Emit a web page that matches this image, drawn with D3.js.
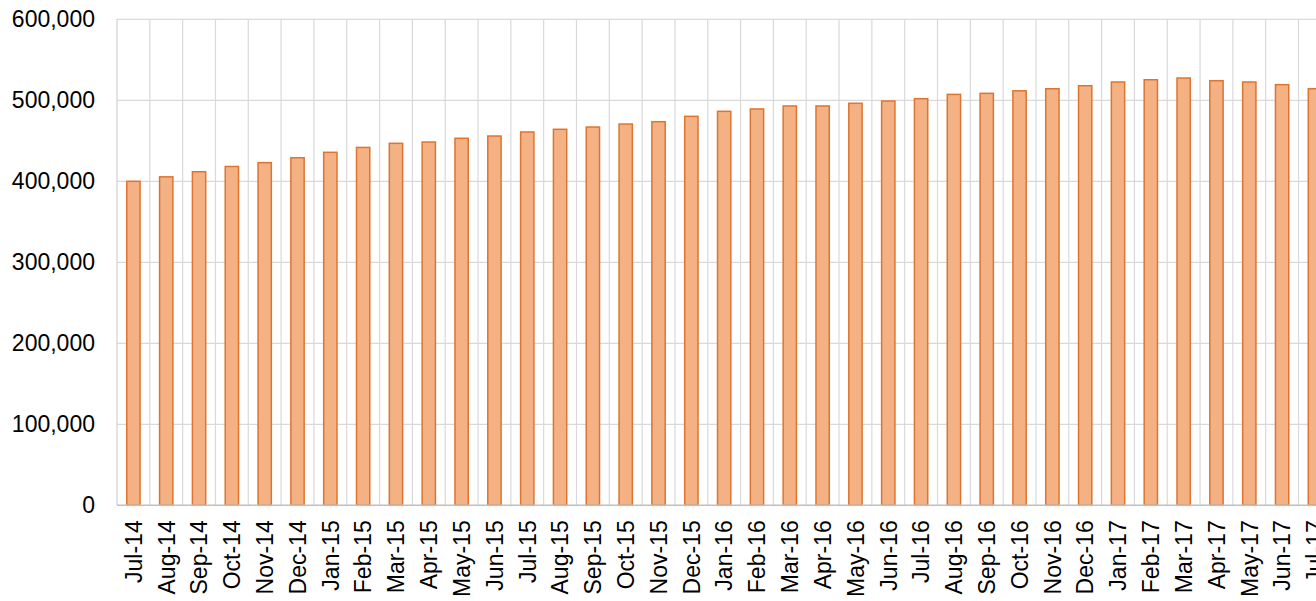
<!DOCTYPE html>
<html>
<head>
<meta charset="utf-8">
<script src="https://cdn.jsdelivr.net/npm/d3@7"></script>
<style>
  body { margin: 0; background: #fff; overflow: hidden; }
  svg { display: block; font-family: "Liberation Sans", Arial, sans-serif; }
  .tick text { font-size: 23px; fill: #000; }
</style>
</head>
<body>
<svg id="chart" width="1316" height="601"></svg>
<script>
// months shown on the x axis
let months = ["Jul-14", "Aug-14", "Sep-14", "Oct-14", "Nov-14", "Dec-14",
  "Jan-15", "Feb-15", "Mar-15", "Apr-15", "May-15", "Jun-15",
  "Jul-15", "Aug-15", "Sep-15", "Oct-15", "Nov-15", "Dec-15",
  "Jan-16", "Feb-16", "Mar-16", "Apr-16", "May-16", "Jun-16",
  "Jul-16", "Aug-16", "Sep-16", "Oct-16", "Nov-16", "Dec-16",
  "Jan-17", "Feb-17", "Mar-17", "Apr-17", "May-17", "Jun-17", "Jul-17"];

// values
let values = [400000, 405500, 411800, 418300, 423000, 429100,
  435800, 441800, 446900, 448500, 453100, 455900,
  460900, 464200, 467000, 470700, 473600, 480200,
  486400, 489300, 493000, 493000, 496300, 499100,
  502000, 507300, 508600, 511700, 514300, 518000,
  522600, 525400, 527500, 524200, 522600, 519300, 514300];

let yTicks = [0, 100000, 200000, 300000, 400000, 500000, 600000];

let drawBarChart = function() {
  let svg = d3.select("svg#chart");

  const margin = { top: 19.3, left: 117 };
  const plotHeight = 486;
  const step = 32.82;
  const plotWidth = step * months.length;

  let countScale = d3.scaleLinear()
    .domain([0, 600000])
    .range([plotHeight, 0]);

  let monthScale = d3.scaleBand()
    .domain(months)
    .range([0, plotWidth])
    .paddingInner(0.595)
    .paddingOuter(0.2975);

  // no padding: used for the vertical grid lines between months
  let cellScale = d3.scaleBand()
    .domain(months)
    .range([0, plotWidth]);

  const plot = svg.append("g").attr("id", "plot");
  plot.attr("transform", translate(margin.left, margin.top));

  // horizontal grid
  plot.append("g").attr("id", "y-grid")
    .selectAll("line")
    .data(yTicks.slice(1))
    .join("line")
    .attr("x1", 0)
    .attr("x2", plotWidth)
    .attr("y1", d => countScale(d))
    .attr("y2", d => countScale(d))
    .attr("stroke", "#d9d9d9")
    .attr("stroke-width", 1.2);

  // vertical grid
  plot.append("g").attr("id", "x-grid")
    .selectAll("line")
    .data(months.slice(1))
    .join("line")
    .attr("x1", d => cellScale(d))
    .attr("x2", d => cellScale(d))
    .attr("y1", 0)
    .attr("y2", plotHeight)
    .attr("stroke", "#d9d9d9")
    .attr("stroke-width", 1.2);

  // left edge of plot area
  plot.append("line")
    .attr("x1", 0).attr("x2", 0)
    .attr("y1", 0).attr("y2", plotHeight)
    .attr("stroke", "#d0d0d0")
    .attr("stroke-width", 1.2);

  // bars
  plot.append("g").attr("id", "bars")
    .selectAll("rect")
    .data(values)
    .join("rect")
    .attr("x", (d, i) => monthScale(months[i]))
    .attr("width", monthScale.bandwidth())
    .attr("y", d => countScale(d))
    .attr("height", d => plotHeight - countScale(d))
    .attr("fill", "#f4b183")
    .attr("stroke", "#df7430")
    .attr("stroke-width", 1.5);

  let yAxis = d3.axisLeft(countScale)
    .tickValues(yTicks)
    .tickFormat(d3.format(","))
    .tickSize(0)
    .tickPadding(22);

  let yGroup = plot.append("g").attr("id", "y-axis");
  yGroup.call(yAxis);
  yGroup.select(".domain").remove();

  let xAxis = d3.axisBottom(monthScale).tickSize(0);

  let xGroup = plot.append("g").attr("id", "x-axis");
  xGroup.attr("transform", translate(0, plotHeight));
  xGroup.call(xAxis);
  xGroup.select(".domain").remove();
  xGroup.selectAll("text")
    .attr("y", 0)
    .attr("x", -15)
    .attr("dy", "0.36em")
    .attr("text-anchor", "end")
    .attr("transform", "rotate(-90)");

  // baseline
  plot.append("line")
    .attr("x1", 0).attr("x2", plotWidth)
    .attr("y1", plotHeight).attr("y2", plotHeight)
    .attr("stroke", "#bfbfbf")
    .attr("stroke-width", 1.5);
};

drawBarChart();

function translate(x, y) {
  return 'translate(' + String(x) + ',' + String(y) + ')';
}
</script>
</body>
</html>
